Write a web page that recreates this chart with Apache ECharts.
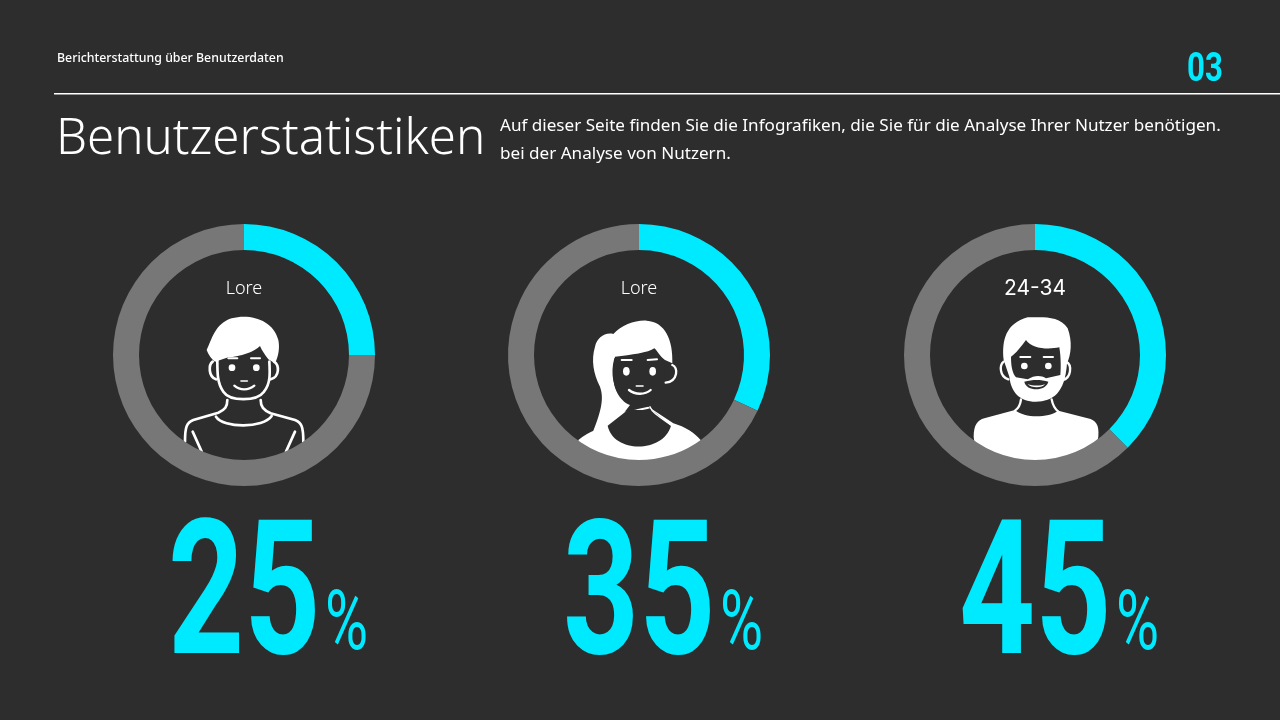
<!DOCTYPE html>
<html>
<head>
<meta charset="utf-8">
<title>Benutzerstatistiken</title>
<script src="https://cdn.jsdelivr.net/npm/echarts@6/dist/echarts.min.js"></script>
<style>
  html, body { margin: 0; padding: 0; background: #2d2d2d; }
  #main { width: 1280px; height: 720px; }
</style>
</head>
<body>
<div id="main"></div>
<script>
// data
var groupLabels = ['Lore', 'Lore', '24-34'];
var percentLabels = ['25', '35', '45'];
var ringShares = [25, 32, 37.5];   // the cyan arc as drawn, not the printed number
var pageNumber = '03';

var BG = '#2d2d2d', CYAN = '#00eaff', GREY = '#777777', WHITE = '#ffffff';
var centersX = [244, 639, 1035];
var FONT = '"Noto Sans", sans-serif';

// avatars, in 3x units around the crop origin (center x - 104, 260)
function fill(d, c) { return { type: 'path', shape: { pathData: d }, style: { fill: c || WHITE } }; }
function line(d, w) { return { type: 'path', shape: { pathData: d }, style: { fill: 'none', stroke: WHITE, lineWidth: w || 8, lineCap: 'round' } }; }
function dot(cx, cy, rx, ry) {
  ry = ry || rx;
  return fill('M' + (cx - rx) + ' ' + cy + 'a' + rx + ' ' + ry + ' 0 1 0 ' + (2 * rx) + ' 0a' + rx + ' ' + ry + ' 0 1 0 ' + (-2 * rx) + ' 0Z');
}

var man = [
  fill('M200 270C215 240 225 190 275 175C330 160 400 180 415 240C420 265 415 290 405 310L385 298C375 285 365 270 360 258C345 275 300 290 265 292L225 305C215 298 205 285 200 270Z'),
  line('M232 300C232 340 232 370 250 395C270 425 350 425 372 395C392 370 390 340 388 305'),
  line('M218 305C205 315 205 350 228 358'),
  line('M402 305C418 315 420 350 392 358'),
  line('M262 420C262 440 255 450 235 458L160 480C140 488 135 500 135 545'),
  line('M362 420C362 440 370 450 392 460L465 480C485 488 490 500 490 545'),
  line('M228 470C250 505 370 505 395 468'),
  line('M158 515L185 575'),
  line('M465 515L438 575'),
  dot(276, 323, 10), dot(349, 323, 10),
  line('M265 295L292 295', 6), line('M333 295L360 295', 6),
  line('M303 363L322 363', 5),
  line('M283 377C300 392 325 392 343 377', 7)
];

var woman = [
  fill('M130 540C165 512 200 505 225 490L270 455L340 440L415 490C450 500 480 520 497 540L480 620L140 620Z'),
  fill('M235 222C260 195 300 180 335 182C390 185 415 240 412 310L390 300C375 290 365 270 358 265C340 278 290 285 240 290C233 320 232 370 245 395C255 415 270 430 285 435L262 465L220 495L170 525C205 440 205 410 195 380C175 340 168 300 180 260C185 235 210 215 235 222Z'),
  fill('M238 295C225 340 235 390 262 415C290 440 340 440 365 415C392 385 392 340 385 300L358 268C340 280 290 285 238 295Z', BG),
  fill('M218 497C235 580 385 580 408 497L345 445C325 452 305 452 285 445Z', BG),
  line('M345 440C350 455 365 465 408 495', 4),
  line('M412 315C430 320 430 365 392 368', 7),
  dot(274, 334, 10, 13), dot(353, 334, 10, 13),
  line('M260 300L290 300', 6), line('M338 300L366 298', 6),
  line('M304 378L324 378', 5),
  line('M282 390C300 405 330 405 347 390', 7)
];

var bearded = [
  fill('M128 530C128 495 140 480 160 475L252 450C280 475 350 475 382 452L470 475C495 480 505 495 502 530L480 620L140 620Z'),
  line('M270 418C268 435 262 445 252 452', 7),
  line('M362 418C365 435 370 445 382 455', 7),
  fill('M290 172C330 172 385 165 410 205C425 245 420 285 408 310C402 400 365 425 315 425C265 425 240 395 235 350L218 300C212 240 225 190 290 172Z'),
  fill('M285 240C300 265 350 270 385 262C390 290 390 330 388 345L345 355C330 345 310 345 290 358L255 352C245 340 240 320 240 290C255 280 270 260 285 240Z', BG),
  fill('M280 365C285 395 345 395 352 365C330 358 305 358 280 365Z', BG),
  fill('M290 372C305 378 330 378 342 372C335 385 300 385 290 372Z'),
  line('M218 305C205 315 205 350 232 358', 7),
  line('M405 305C425 315 420 355 395 360', 7),
  dot(280, 318, 10), dot(352, 318, 10),
  line('M268 291L298 291', 6), line('M338 291L366 291', 6),
  line('M303 357L330 357', 5)
];

var avatars = [man, woman, bearded];

var graphics = [
  { type: 'text', x: 57, y: 58, style: { text: 'Berichterstattung über Benutzerdaten', font: '500 12.35px ' + FONT, fill: WHITE, textVerticalAlign: 'middle' } },
  { type: 'rect', shape: { x: 54, y: 93, width: 1226, height: 1.5 }, style: { fill: WHITE } },
  { type: 'text', x: 1187, y: 71, scaleX: 0.78, style: { text: pageNumber, font: '700 40px Roboto, sans-serif', fill: CYAN, textVerticalAlign: 'middle' } },
  { type: 'text', x: 56, y: 140, style: { text: 'Benutzerstatistiken', font: '300 49.2px ' + FONT, fill: WHITE, textVerticalAlign: 'middle' } },
  { type: 'text', x: 500, y: 126, style: { text: 'Auf dieser Seite finden Sie die Infografiken, die Sie für die Analyse Ihrer Nutzer benötigen.', font: '400 17.1px ' + FONT, fill: WHITE, textVerticalAlign: 'middle' } },
  { type: 'text', x: 500, y: 154, style: { text: 'bei der Analyse von Nutzern.', font: '400 17.1px ' + FONT, fill: WHITE, textVerticalAlign: 'middle' } }
];

var series = [{
  type: 'custom',
  coordinateSystem: 'none',
  silent: true,
  z: 1,
  data: [0, 1, 2],
  renderItem: function (params) {
    var i = params.dataIndex;
    return { type: 'group', x: centersX[i] - 104, y: 260, scaleX: 1 / 3, scaleY: 1 / 3, children: avatars[i] };
  }
}];

centersX.forEach(function (cx, i) {
  series.push({
    type: 'pie',
    silent: true,
    animation: false,
    center: [cx, 355],
    radius: [105, 131],
    startAngle: 90,
    clockwise: true,
    label: { show: false },
    labelLine: { show: false },
    data: [
      { value: ringShares[i], itemStyle: { color: CYAN } },
      { value: 100 - ringShares[i], itemStyle: { color: GREY } }
    ]
  });
  graphics.push({ type: 'text', x: cx, y: 289, style: { text: groupLabels[i], font: (i === 2 ? '400 21px Inter, ' : '300 18px ') + FONT, fill: WHITE, textAlign: 'center', textVerticalAlign: 'middle' } });
  graphics.push({ type: 'text', x: cx - 76, y: 606, scaleX: 0.71, style: { text: percentLabels[i], font: '700 187px Roboto, sans-serif', fill: CYAN, textVerticalAlign: 'middle' } });
  graphics.push({ type: 'text', x: cx + 81, y: 628, scaleX: 0.7, style: { text: '%', font: '400 84px Roboto, sans-serif', fill: CYAN, textVerticalAlign: 'middle' } });
});

var chart = echarts.init(document.getElementById('main'), null, { renderer: 'canvas' });
chart.setOption({
  backgroundColor: BG,
  animation: false,
  series: series,
  graphic: graphics
});
</script>
</body>
</html>
